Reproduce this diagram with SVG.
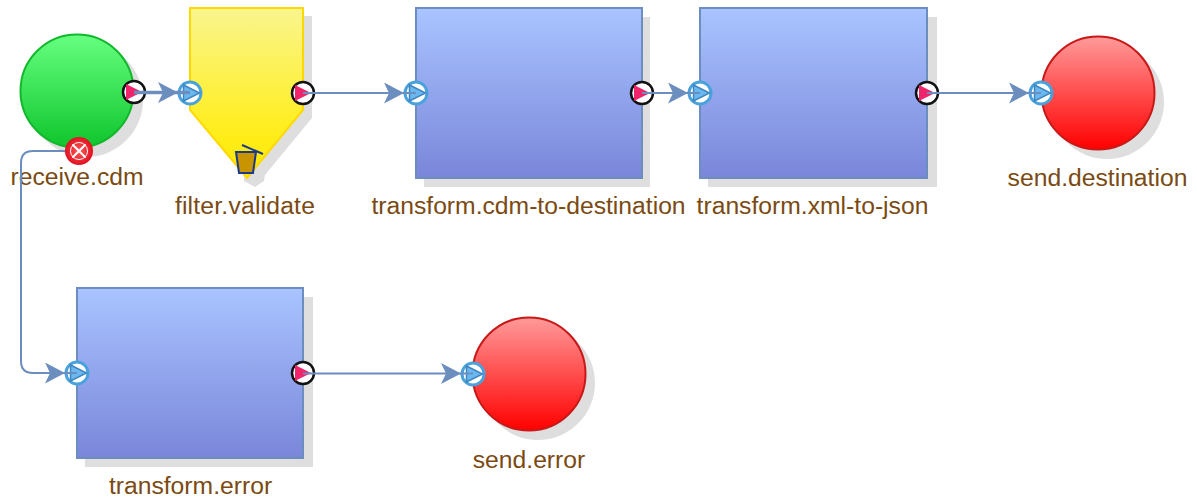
<svg xmlns="http://www.w3.org/2000/svg" width="1197" height="500" viewBox="0 0 1197 500">
<style>
.shadow{fill:#dedede}
.blue{fill:url(#gBlue);stroke:#6c8ebf;stroke-width:2}
.red{fill:url(#gRed);stroke:#c81818;stroke-width:2}
.lbl{font-family:"Liberation Sans",Arial,sans-serif;font-size:24.7px;fill:#7a4a12;text-anchor:middle}
.conn{fill:none;stroke:#6c8ebf;stroke-width:2}
.in circle{fill:#fff;stroke:#4aa2dc;stroke-width:3}
.in path{fill:#6ab8f0;stroke:#3f86c0;stroke-width:1.500}
.out circle{fill:#fff;stroke:#111;stroke-width:2.500}
.out path{fill:#f0246a}
</style>
<defs>
<linearGradient id="gBlue" x1="0" y1="0" x2="0" y2="1"><stop offset="0" stop-color="#a9c4ff"/><stop offset="1" stop-color="#7a86da"/></linearGradient>
<linearGradient id="gRed" x1="0" y1="0" x2="0" y2="1"><stop offset="0" stop-color="#ff9a9a"/><stop offset="1" stop-color="#ff0000"/></linearGradient>
<linearGradient id="gGreen" x1="0" y1="0" x2="0" y2="1"><stop offset="0" stop-color="#66ff80"/><stop offset="1" stop-color="#0fc52c"/></linearGradient>
<linearGradient id="gYellow" x1="0" y1="0" x2="0" y2="1"><stop offset="0" stop-color="#faf58e"/><stop offset="0.7" stop-color="#ffee20"/><stop offset="1" stop-color="#ffe800"/></linearGradient>
<radialGradient id="gErr"><stop offset="0" stop-color="#ff5a5a"/><stop offset="1" stop-color="#e01020"/></radialGradient>
<marker id="arrow" viewBox="0 0 34 22" refX="32" refY="10.500" markerWidth="34" markerHeight="22" markerUnits="userSpaceOnUse" orient="auto"><path d="M0 0L20 10.500L0 21L5 10.500Z" fill="#6c8ebf"/></marker>
<g id="portIn" class="in"><circle r="11"/><path d="M-6.500 -8L9.500 0L-6.500 8Z"/></g>
<g id="portOut" class="out"><circle r="11"/><path d="M-8 -8L8 0L-8 8Z"/></g>
</defs>

<g id="receive.cdm">
<circle class="shadow" cx="86" cy="100" r="57"/>
<circle cx="77" cy="91" r="56.500" fill="url(#gGreen)" stroke="#12b82c" stroke-width="2"/>
<text class="lbl" x="77" y="185">receive.cdm</text>
</g>
<g id="filter.validate">
<path class="shadow" d="M198 16H312V118L255 187L198 118Z"/>
<path class="shadow" d="M244 160H267L264 181L255 187L244 181Z"/>
<path d="M190 8H303V110L247 178L190 110Z" fill="url(#gYellow)" stroke="#ffd800" stroke-width="2"/>
<path d="M242 145L263 154" stroke="#1c3a8c" stroke-width="2" fill="none"/>
<path d="M236 152H256L253 173H239Z" fill="#c89400" stroke="#1c3a8c" stroke-width="2"/>
<text class="lbl" x="245" y="214" letter-spacing="0.2">filter.validate</text>
</g>
<g id="transform.cdm-to-destination">
<rect class="shadow" x="424" y="17" width="226" height="170"/>
<rect class="blue" x="416" y="8" width="226" height="170"/>
<text class="lbl" x="528.500" y="214">transform.cdm-to-destination</text>
</g>
<g id="transform.xml-to-json">
<rect class="shadow" x="708" y="17" width="229" height="170"/>
<rect class="blue" x="700" y="8" width="227" height="170"/>
<text class="lbl" x="812.500" y="214">transform.xml-to-json</text>
</g>
<g id="send.destination">
<circle class="shadow" cx="1107" cy="102" r="57"/>
<circle class="red" cx="1098" cy="93" r="56.500"/>
<text class="lbl" x="1097.500" y="186">send.destination</text>
</g>
<g id="transform.error">
<rect class="shadow" x="85" y="297" width="228" height="170"/>
<rect class="blue" x="77" y="288" width="226" height="170"/>
<text class="lbl" x="190.500" y="494">transform.error</text>
</g>
<g id="send.error">
<circle class="shadow" cx="538" cy="383" r="57"/>
<circle class="red" cx="529" cy="374" r="56.500"/>
<text class="lbl" x="529" y="468">send.error</text>
</g>

<g id="ports">
<use href="#portOut" x="134" y="92"/>
<use href="#portIn" x="190" y="93"/>
<use href="#portOut" x="303" y="93"/>
<use href="#portIn" x="416" y="93"/>
<use href="#portOut" x="642" y="93"/>
<use href="#portIn" x="700" y="93"/>
<use href="#portOut" x="927" y="93"/>
<use href="#portIn" x="1041" y="93"/>
<use href="#portIn" x="77" y="373"/>
<use href="#portOut" x="303" y="373"/>
<use href="#portIn" x="473" y="374"/>
</g>
<g id="error-port">
<circle cx="79" cy="151" r="14" fill="url(#gErr)"/>
<path d="M73 145L85 157M85 145L73 157" stroke="#fff" stroke-width="2" stroke-linecap="round"/>
<circle cx="79" cy="151" r="8.500" fill="none" stroke="#fff" stroke-width="1"/>
</g>
<g id="connectors">
<path class="conn" style="stroke-width:3.500" d="M134 92.500H190" marker-end="url(#arrow)"/>
<path class="conn" d="M303 93H416" marker-end="url(#arrow)"/>
<path class="conn" d="M642 93H700" marker-end="url(#arrow)"/>
<path class="conn" d="M927 93H1041" marker-end="url(#arrow)"/>
<path class="conn" d="M65 151H33Q21 151 21 163V361Q21 373 33 373H77" marker-end="url(#arrow)"/>
<path class="conn" d="M303 373.500H473" marker-end="url(#arrow)"/>
</g>
</svg>
